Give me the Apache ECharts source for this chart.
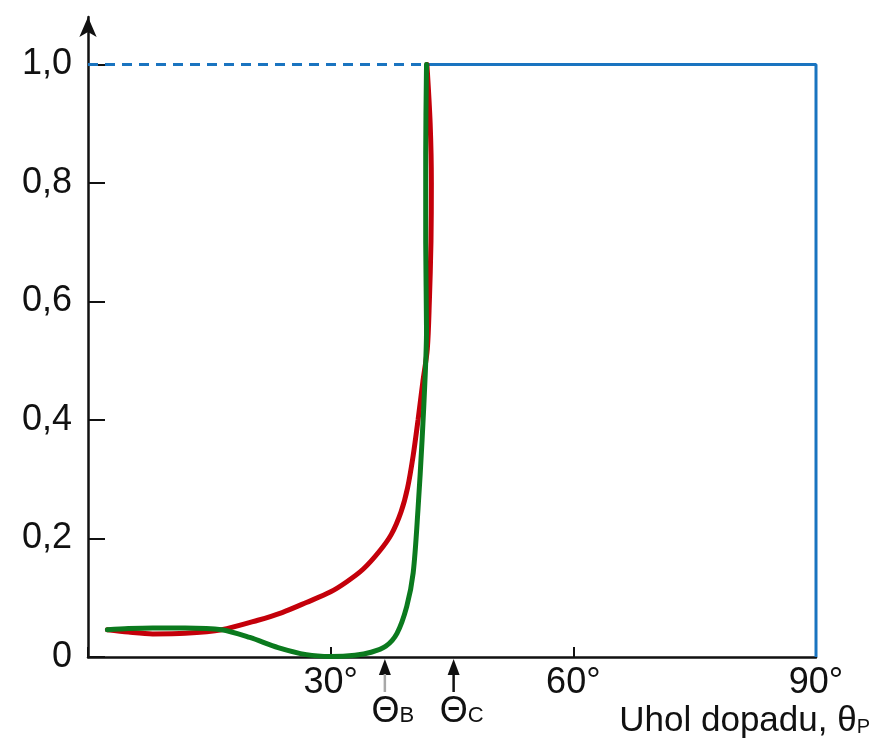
<!DOCTYPE html>
<html>
<head>
<meta charset="utf-8">
<script src="https://cdn.jsdelivr.net/npm/echarts@6/dist/echarts.min.js"></script>
<style>
  html, body { margin: 0; padding: 0; background: #fff; }
  #chart { width: 887px; height: 744px; }
</style>
</head>
<body>
<div id="chart"></div>
<script>
// odrazivost pre s-polarizáciu (červená)
var rsAngle = [2.4, 5, 8, 12, 16.5, 21, 24, 27, 30, 32, 34, 36, 37.5, 38.7, 39.5, 40.2, 40.8, 41.4, 41.95, 42.2, 42.4, 42.45, 42.3, 41.9];
var rsValue = [0.046, 0.042, 0.039, 0.040, 0.046, 0.062, 0.075, 0.092, 0.110, 0.127, 0.148, 0.178, 0.207, 0.245, 0.285, 0.34, 0.40, 0.465, 0.52, 0.60, 0.70, 0.80, 0.90, 1.0];
// odrazivost pre p-polarizáciu (zelená)
var rpAngle = [2.4, 5, 8, 12, 16.5, 20, 23.5, 27, 30, 33, 35, 36.8, 38.2, 39.4, 40.2, 40.8, 41.3, 41.7, 41.85, 41.75, 41.75, 41.85];
var rpValue = [0.046, 0.048, 0.049, 0.049, 0.046, 0.033, 0.016, 0.004, 0.001, 0.003, 0.008, 0.018, 0.04, 0.085, 0.142, 0.25, 0.366, 0.48, 0.55, 0.70, 0.85, 1.0];
// úplný odraz nad kritickým uhlom
var dashAngle = [0, 41.85];
var dashValue = [1, 1];
var totalAngle = [41.85, 90, 90];
var totalValue = [1, 1, 0];
// vyznačené uhly
var markNames = ['B', 'C'];
var markAngles = [36.7, 45.2];
var markShaftColors = ['#a8a8a8', '#111'];
// popisy osí
var xTicks = [30, 60, 90];
var yTicks = [0, 0.2, 0.4, 0.6, 0.8, 1.0];

function pairs(xs, ys) {
  return xs.map(function (x, i) { return [x, ys[i]]; });
}

var font = 'Liberation Sans, Arial, sans-serif';
var chart = echarts.init(document.getElementById('chart'));

chart.setOption({
  animation: false,
  backgroundColor: '#fff',
  title: {
    text: '{a|Uhol dopadu, θ}{s|P}',
    right: 12,
    top: 699,
    textStyle: {
      rich: {
        a: { fontFamily: font, fontSize: 35, color: '#111', fontWeight: 'normal' },
        s: { fontFamily: font, fontSize: 20, color: '#111', fontWeight: 'normal', padding: [12, 0, 0, 0] }
      }
    }
  },
  grid: { left: 88, right: 71, top: 17, bottom: 87 },
  xAxis: {
    type: 'value',
    min: 0,
    max: 90,
    interval: 30,
    splitLine: { show: false },
    axisLine: { lineStyle: { color: '#111', width: 2.5 } },
    axisTick: { inside: true, length: 10, lineStyle: { color: '#111', width: 2 } },
    axisLabel: {
      margin: 8,
      fontFamily: font,
      fontSize: 36,
      color: '#111',
      formatter: function (v) { return xTicks.indexOf(v) >= 0 ? v + '°' : ''; }
    }
  },
  yAxis: {
    type: 'value',
    min: 0,
    max: 1.08,
    interval: 0.2,
    splitLine: { show: false },
    axisLine: {
      show: true,
      symbol: ['none', 'arrow'],
      symbolSize: [13, 20],
      lineStyle: { color: '#111', width: 2.5 }
    },
    axisTick: { show: true, inside: true, length: 17, lineStyle: { color: '#111', width: 2 } },
    axisLabel: {
      margin: 16,
      showMaxLabel: false,
      fontFamily: font,
      fontSize: 36,
      color: '#111',
      padding: [0, 0, 14, 0],
      formatter: function (v) {
        var t = yTicks.filter(function (k) { return Math.abs(k - v) < 1e-6; });
        if (!t.length) return '';
        return v === 0 ? '0' : t[0].toFixed(1).replace('.', ',');
      }
    }
  },
  series: [
    {
      type: 'line',
      data: pairs(dashAngle, dashValue),
      showSymbol: false,
      clip: false,
      lineStyle: { color: '#1a74c0', width: 3, type: [10, 7] }
    },
    {
      type: 'line',
      data: pairs(totalAngle, totalValue),
      showSymbol: false,
      clip: false,
      lineStyle: { color: '#1a74c0', width: 3 }
    },
    {
      type: 'line',
      data: pairs(rsAngle, rsValue),
      smooth: 0.3,
      showSymbol: false,
      lineStyle: { color: '#c4000a', width: 5, cap: 'round' }
    },
    {
      type: 'line',
      data: pairs(rpAngle, rpValue),
      smooth: 0.3,
      showSymbol: false,
      lineStyle: { color: '#0b7a1e', width: 5, cap: 'round' }
    },
    {
      // hroty šípok
      type: 'scatter',
      symbol: 'triangle',
      symbolSize: [12, 16],
      symbolOffset: [0, 10],
      itemStyle: { color: '#111', opacity: 1 },
      data: markAngles.map(function (a) { return [a, 0]; })
    },
    {
      // drieky šípok s popisom
      type: 'scatter',
      symbol: 'rect',
      symbolSize: [2.5, 18],
      symbolOffset: [0, 26],
      data: markAngles.map(function (a, i) {
        return {
          value: [a, 0],
          name: markNames[i],
          itemStyle: { color: markShaftColors[i], opacity: 1 }
        };
      }),
      label: {
        show: true,
        position: 'bottom',
        distance: 2,
        offset: [8, 0],
        formatter: function (p) { return '{t|Θ}{s|' + p.name + '}'; },
        rich: {
          t: { fontFamily: font, fontSize: 36, color: '#111' },
          s: { fontFamily: font, fontSize: 22, color: '#111', padding: [8, 0, 0, 0] }
        }
      }
    }
  ]
});
</script>
</body>
</html>
